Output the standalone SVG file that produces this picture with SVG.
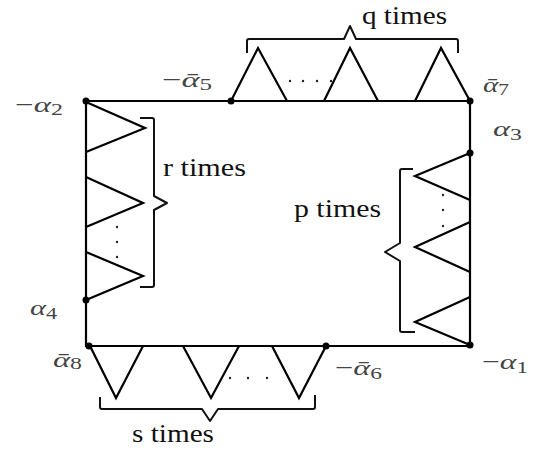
<svg xmlns="http://www.w3.org/2000/svg" width="536" height="450" viewBox="0 0 536 450">
<style>
.ln{fill:none;stroke:#000;stroke-width:2.2;stroke-linejoin:miter;stroke-linecap:butt}
.br{fill:none;stroke:#111;stroke-width:2;stroke-linejoin:round}
.dot{fill:#000}
.el{fill:#222}
.t{font-family:"Liberation Serif","Times New Roman",serif;font-size:26px;fill:#111}
.lb{font-family:"Liberation Serif","Times New Roman",serif;font-size:22px;fill:#444}
.a{font-style:italic}
.s{font-size:16px}
</style>
<rect width="536" height="450" fill="#fff"/>
<g id="connectors">
  <path class="ln" d="M86,101 H470 V346 H86 Z"/>
  <!-- top triangles -->
  <path class="ln" d="M231,101 L258,48 L287,101"/>
  <path class="ln" d="M324,101 L350,48 L378,101"/>
  <path class="ln" d="M415,101 L441,48 L470,101"/>
  <!-- left triangles -->
  <path class="ln" d="M86,102 L145,128 L86,152"/>
  <path class="ln" d="M86,177 L143,203 L86,227"/>
  <path class="ln" d="M86,252 L143,276 L86,300"/>
  <!-- right triangles -->
  <path class="ln" d="M470,153 L415,176 L470,200"/>
  <path class="ln" d="M470,222 L415,247 L470,272"/>
  <path class="ln" d="M470,297 L415,322 L470,345"/>
  <!-- bottom triangles -->
  <path class="ln" d="M90,346 L116,398 L143,346"/>
  <path class="ln" d="M183,346 L211,398 L239,346"/>
  <path class="ln" d="M272,346 L299,398 L326,346"/>
</g>
<g id="braces">
  <path class="br" d="M247,53 V41 Q247,39 249,39 H344 L350,26 L356,39 H456 Q458,39 458,41 V53"/>
  <path class="br" d="M140,118 H152 Q154,118 154,120 V196 L167,203 L154,210 V285 Q154,287 152,287 H140"/>
  <path class="br" d="M413,169 H402 Q400,169 400,171 V243 L385,252 L400,261 V330 Q400,332 402,332 H415"/>
  <path class="br" d="M100,397 V407 Q100,409 102,409 H202 L210,421 L218,409 H313 Q315,409 315,407 V395"/>
</g>
<g id="ellipses">
  <circle class="el" cx="290" cy="81" r="1.2"/><circle class="el" cx="303" cy="81" r="1.2"/><circle class="el" cx="317" cy="81" r="1.2"/><circle class="el" cx="331" cy="81" r="1.2"/>
  <circle class="el" cx="117" cy="227" r="1.2"/><circle class="el" cx="117" cy="242" r="1.2"/><circle class="el" cx="117" cy="257" r="1.2"/>
  <circle class="el" cx="443" cy="195" r="1.2"/><circle class="el" cx="443" cy="210" r="1.2"/><circle class="el" cx="443" cy="226" r="1.2"/>
  <circle class="el" cx="230" cy="378" r="1.2"/><circle class="el" cx="248" cy="378" r="1.2"/><circle class="el" cx="267" cy="378" r="1.2"/>
</g>
<g id="vertices">
  <circle class="dot" cx="86" cy="101" r="3.5"/>
  <circle class="dot" cx="231" cy="101" r="3.5"/>
  <circle class="dot" cx="470" cy="101" r="3.5"/>
  <circle class="dot" cx="470" cy="153" r="3.5"/>
  <circle class="dot" cx="86" cy="300" r="3.5"/>
  <circle class="dot" cx="89" cy="346" r="3.5"/>
  <circle class="dot" cx="326" cy="346" r="3.5"/>
  <circle class="dot" cx="470" cy="345" r="3.5"/>
</g>
<g id="brace-labels">
  <text class="t" x="362" y="24" textLength="85" lengthAdjust="spacingAndGlyphs">q times</text>
  <text class="t" x="163" y="176" textLength="83" lengthAdjust="spacingAndGlyphs">r times</text>
  <text class="t" x="294" y="217" textLength="87" lengthAdjust="spacingAndGlyphs">p times</text>
  <text class="t" x="132" y="442" textLength="82" lengthAdjust="spacingAndGlyphs">s times</text>
</g>
<g id="vertex-labels">
  <text class="lb" x="15" y="112" textLength="48" lengthAdjust="spacingAndGlyphs">−<tspan class="a">α</tspan><tspan class="s" dy="3">2</tspan></text>
  <text class="lb" x="162" y="87" textLength="50" lengthAdjust="spacingAndGlyphs">−<tspan class="a">ᾱ</tspan><tspan class="s" dy="3">5</tspan></text>
  <text class="lb" x="483" y="92" textLength="26" lengthAdjust="spacingAndGlyphs"><tspan class="a">ᾱ</tspan><tspan class="s" dy="3">7</tspan></text>
  <text class="lb" x="493" y="136" textLength="29" lengthAdjust="spacingAndGlyphs"><tspan class="a">α</tspan><tspan class="s" dy="4">3</tspan></text>
  <text class="lb" x="30" y="315" textLength="27" lengthAdjust="spacingAndGlyphs"><tspan class="a">α</tspan><tspan class="s" dy="4">4</tspan></text>
  <text class="lb" x="53" y="367" textLength="29" lengthAdjust="spacingAndGlyphs"><tspan class="a">ᾱ</tspan><tspan class="s" dy="2">8</tspan></text>
  <text class="lb" x="335" y="375" textLength="47" lengthAdjust="spacingAndGlyphs">−<tspan class="a">ᾱ</tspan><tspan class="s" dy="4">6</tspan></text>
  <text class="lb" x="482" y="369" textLength="46" lengthAdjust="spacingAndGlyphs">−<tspan class="a">α</tspan><tspan class="s" dy="4">1</tspan></text>
</g>
</svg>
